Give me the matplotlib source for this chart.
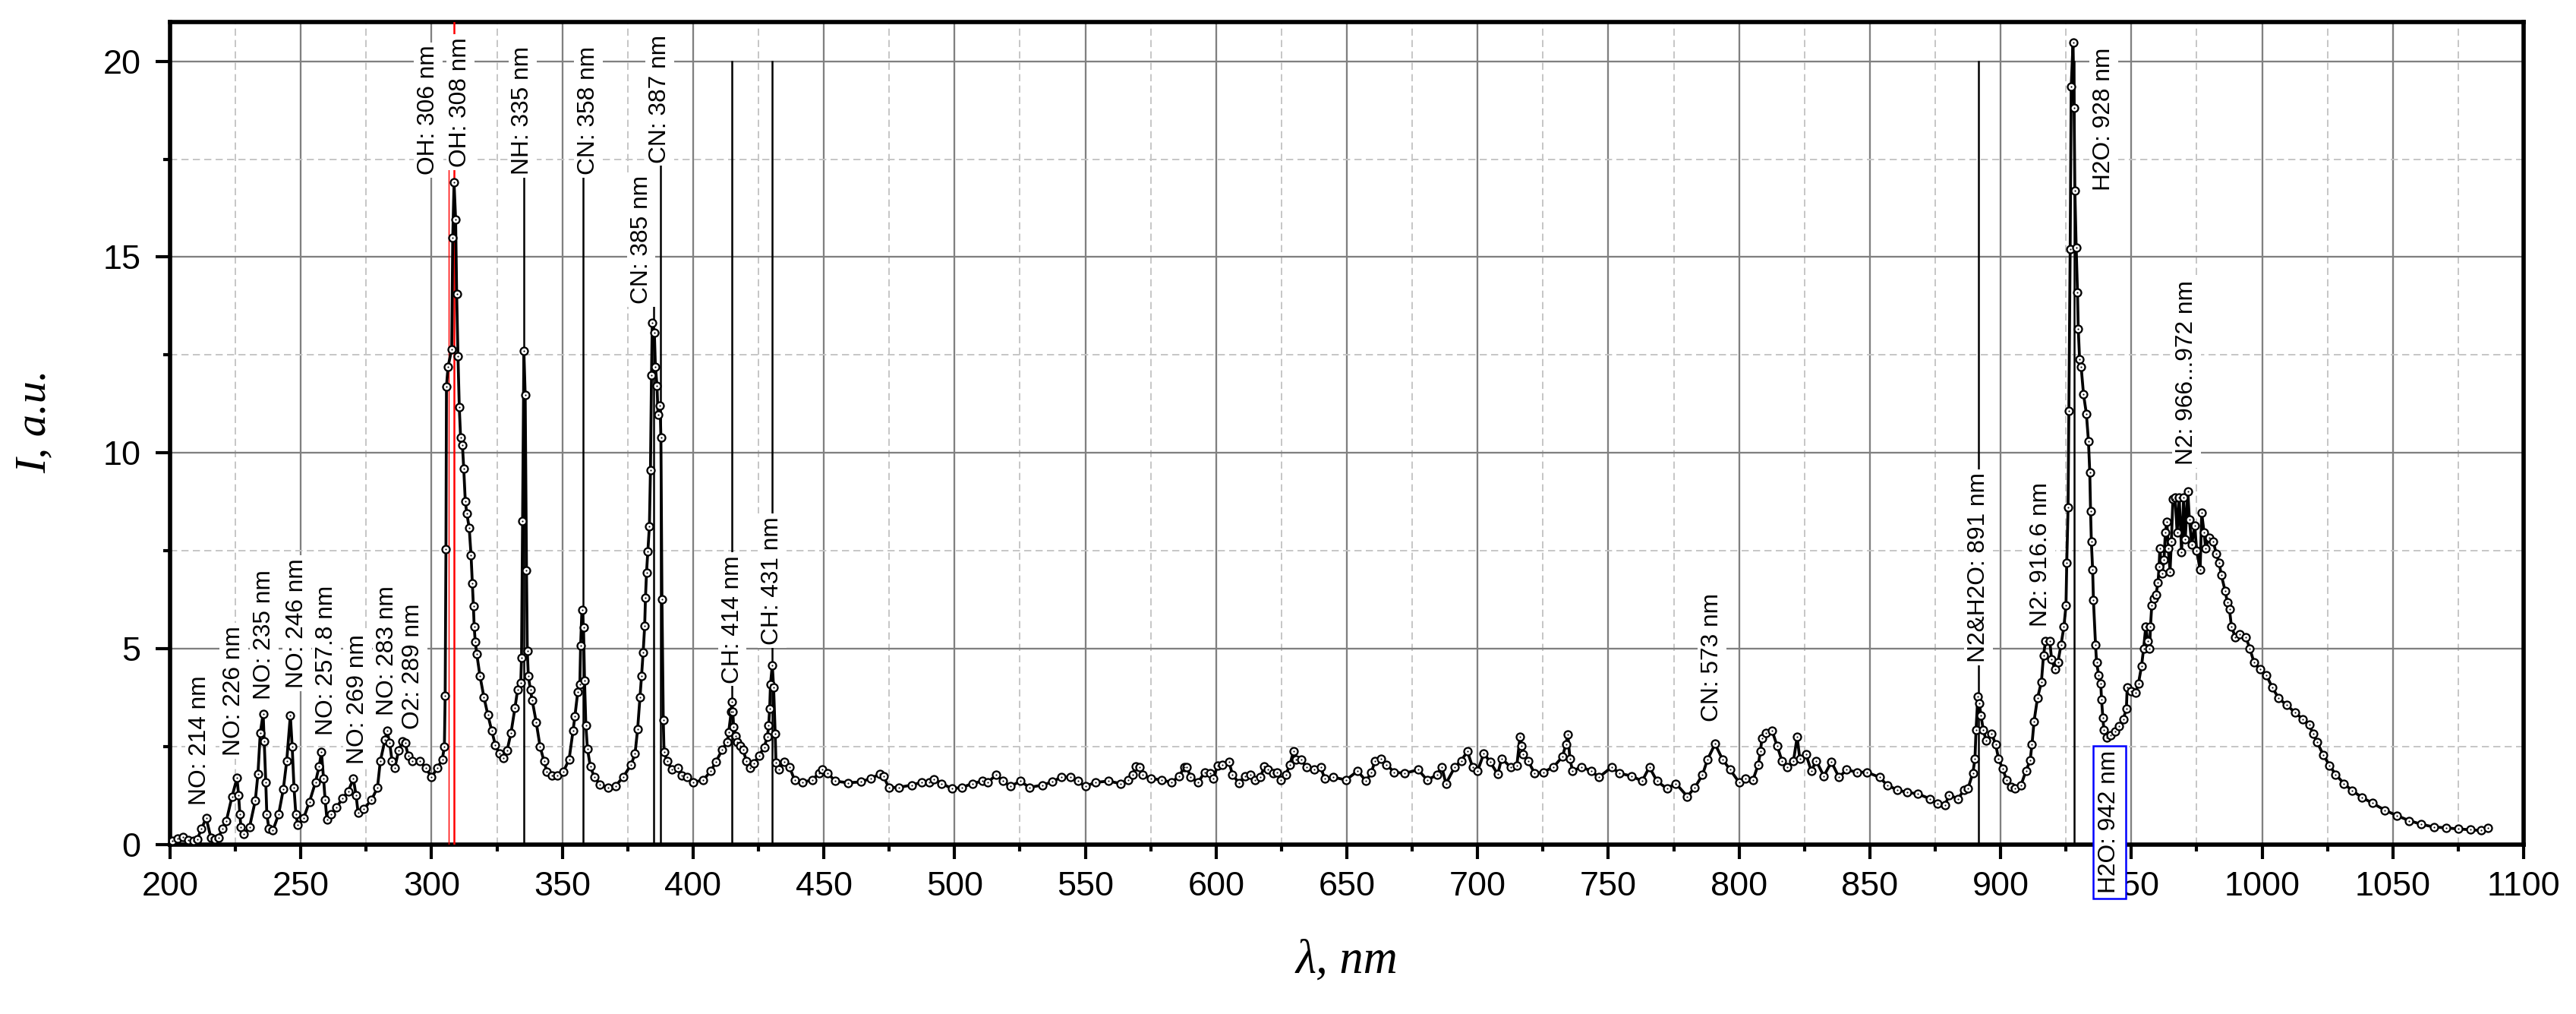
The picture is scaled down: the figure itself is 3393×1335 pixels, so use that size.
import numpy as np
import matplotlib
matplotlib.use("Agg")
import matplotlib.pyplot as plt
from matplotlib.ticker import MultipleLocator

# spectrum (wavelength, nm / intensity, a.u.)
wavelength = [
    201, 203, 205, 207, 209, 210.4, 212, 213.8, 215.6, 217, 218.5, 220, 221.5, 223.7, 225.6, 226.2,
    226.7, 227.1, 228.1, 230.4, 232.6, 233.6, 234.5, 235.6, 236, 236.6, 237, 237.8, 239.3, 241.5,
    243.3, 244.6, 246, 246.7, 247.4, 248.1, 248.9, 251.1, 253.3, 255.6, 257, 257.9, 258.7, 259.3,
    260, 261.5, 263.7, 265.9, 268.1, 270.1, 271.1, 271.9, 274.1, 277, 279.3, 280.4, 282.2, 283,
    284, 284.9, 285.9, 287.4, 288.9, 289.9, 291.1, 292.6, 295.6, 297.8, 300, 302.2, 304.1, 304.9,
    305.2, 305.5, 305.7, 306.3, 307.7, 308.1, 308.6, 309.2, 309.6, 310.1, 310.6, 311.1, 311.8,
    312.3, 312.9, 313.5, 314.4, 315.1, 315.6, 316, 316.3, 316.7, 317.3, 318.5, 320, 321.5, 323,
    324.4, 325.9, 327.4, 328.9, 330.4, 331.9, 332.9, 334.1, 334.4, 334.8, 335.3, 335.8, 336.3,
    336.6, 337, 337.8, 338.5, 340, 341.5, 343, 344.1, 345.9, 348.1, 350.4, 352.6, 354.1, 354.8,
    355.9, 356.7, 357, 357.5, 358.1, 358.5, 359, 359.6, 360.7, 362.2, 364.4, 367.4, 370.4, 373.3,
    376.3, 377.8, 378.8, 379.7, 380.3, 380.9, 381.5, 381.8, 382.2, 382.7, 383.3, 383.7, 384.1,
    384.4, 385.2, 385.6, 386.2, 386.6, 387.4, 387.7, 388.1, 388.6, 388.9, 390.1, 391.9, 394.1,
    395.6, 397.8, 400, 403.9, 406.8, 408.7, 411.2, 413.1, 413.6, 414.6, 414.8, 415.2, 415.5,
    416.2, 417, 418, 419.1, 420.4, 421.8, 423.3, 425.2, 427.2, 428.4, 428.9, 429.3, 429.6, 430.3,
    430.8, 431.4, 431.7, 432.8, 434.9, 436.9, 438.8, 441.7, 445.6, 448.1, 449.3, 451.5, 454.4,
    459.2, 464.1, 468, 471.4, 472.8, 474.8, 478.6, 483.5, 487.4, 490.3, 492.2, 495.1, 499, 502.9,
    506.8, 510.7, 512.6, 516, 518.4, 521.4, 525.2, 528.6, 533.5, 537.4, 540.8, 544.2, 547.1, 550,
    553.9, 558.7, 563.6, 566.5, 568, 569.4, 570.6, 571.8, 575.2, 579.1, 583, 585.9, 587.9, 588.8,
    590.3, 593.2, 595.6, 597.6, 599, 600.5, 602.4, 604.9, 606.3, 608.7, 611.2, 613.1, 615, 617,
    618.4, 619.9, 621.8, 623.3, 624.8, 626.7, 628.2, 629.6, 630.6, 632.5, 634.5, 637.4, 640,
    641.5, 644.9, 649.7, 654.1, 657.4, 659.4, 660.8, 663.2, 665.2, 668.1, 672, 677.3, 680.7,
    684.5, 686.3, 687.9, 691.3, 693.7, 696.1, 698.1, 700, 702.4, 704.8, 707.7, 709.2, 712.6, 715,
    716.2, 716.9, 717.4, 719.3, 721.8, 725.1, 729, 732.4, 733.8, 734.5, 735.3, 736.3, 739.7,
    743.5, 746.4, 751.3, 754.2, 759, 762.9, 765.7, 768.6, 772.4, 775.8, 780.2, 783.1, 786, 787.9,
    790.8, 793.7, 796.6, 800, 802.4, 805.3, 807.3, 808.2, 808.7, 810.2, 812.6, 814.5, 816.4,
    818.4, 820.8, 822.2, 823.2, 825.6, 827.6, 829.5, 832.4, 835.3, 838.2, 841.1, 845, 848.8,
    853.7, 856.6, 860.4, 864.3, 868.2, 873, 875.9, 878.8, 880.3, 883.7, 886.1, 887.5, 889.4,
    890.2, 890.6, 891.3, 891.9, 892.5, 893.4, 894.5, 896.6, 898.1, 899.2, 900.8, 902.3, 903.9,
    905.5, 907.8, 909.7, 911.3, 912, 912.8, 914.1, 915.6, 916.4, 917.2, 918.8, 919.5, 920.8,
    921.9, 923.1, 924.2, 925, 925.3, 925.8, 926.1, 926.6, 927, 927.7, 928.1, 928.4, 928.9, 929.4,
    929.7, 930.2, 930.8, 931.7, 932.8, 933.6, 934.1, 934.4, 934.7, 935.2, 935.5, 936.3, 936.7,
    937.5, 938.3, 938.6, 939.1, 939.5, 940.6, 942.2, 943.8, 945.3, 946.9, 948.1, 948.4, 950,
    951.6, 952.7, 953.9, 954.7, 955.5, 956.3, 957, 957.3, 957.8, 958.6, 959.4, 960.2, 960.6,
    960.9, 961.7, 962.5, 963, 963.6, 964.1, 964.8, 965.3, 965.9, 966.7, 967.5, 968.3, 969.2, 970,
    970.6, 971.6, 972.2, 973.1, 974.2, 975, 976.3, 976.9, 977.8, 978.4, 979.7, 981.3, 982.5,
    983.6, 984.4, 985.9, 986.7, 987.5, 988.3, 989.8, 991.4, 993.8, 995.3, 996.9, 999.2, 1001.6,
    1003.9, 1006.3, 1009.4, 1012.5, 1015.6, 1018, 1019.5, 1021.1, 1023.4, 1025.8, 1028.1, 1031.3,
    1034.4, 1038.3, 1042.2, 1046.9, 1051.6, 1056.3, 1060.9, 1065.6, 1070.3, 1075, 1079.7, 1083.6,
    1086.3,
]
intensity = [
    0.1, 0.15, 0.2, 0.12, 0.1, 0.14, 0.4, 0.68, 0.18, 0.14, 0.18, 0.4, 0.6, 1.23, 1.7, 1.27,
    0.77, 0.45, 0.27, 0.45, 1.13, 1.8, 2.86, 3.34, 2.63, 1.59, 0.77, 0.41, 0.36, 0.77,
    1.41, 2.13, 3.3, 2.5, 1.45, 0.77, 0.5, 0.68, 1.09, 1.59, 2.0, 2.36, 1.68, 1.14,
    0.64, 0.77, 0.95, 1.18, 1.36, 1.68, 1.27, 0.82, 0.91, 1.14, 1.45, 2.13, 2.68, 2.9,
    2.59, 2.13, 1.95, 2.4, 2.63, 2.59, 2.27, 2.13, 2.13, 1.95, 1.73, 1.95, 2.18, 2.5,
    3.81, 7.54, 11.7, 12.2, 12.65, 15.5, 16.9, 15.95, 14.05, 12.46, 11.16, 10.4, 10.2,
    9.6, 8.76, 8.45, 8.08, 7.38, 6.68, 6.08, 5.56, 5.18, 4.86, 4.31, 3.77, 3.32, 2.91,
    2.54, 2.32, 2.22, 2.41, 2.86, 3.5, 3.95, 4.13, 4.77, 8.27, 12.6, 11.48, 7.0,
    4.95, 4.31, 3.95, 3.68, 3.13, 2.5, 2.13, 1.86, 1.77, 1.77, 1.86, 2.18, 2.91, 3.27,
    3.9, 4.09, 5.09, 6.0, 5.54, 4.18, 3.04, 2.45, 2.0, 1.73, 1.54, 1.45, 1.5, 1.73,
    2.04, 2.32, 2.95, 3.77, 4.31, 4.9, 5.59, 6.31, 6.95, 7.49, 8.13, 9.56, 11.98,
    13.33, 13.06, 12.2, 11.72, 10.98, 11.2, 10.39, 6.27, 3.18, 2.36, 2.13, 1.91, 1.95,
    1.77, 1.73, 1.59, 1.65, 1.88, 2.11, 2.43, 2.62, 2.87, 3.4, 3.64, 3.4, 3.01,
    2.78, 2.62, 2.53, 2.42, 2.14, 1.96, 2.07, 2.27, 2.49, 2.75, 3.04, 3.48, 4.1, 4.58,
    4.01, 2.83, 2.09, 1.91, 2.12, 1.98, 1.65, 1.59, 1.65, 1.82, 1.91, 1.82, 1.62,
    1.58, 1.6, 1.69, 1.8, 1.75, 1.46, 1.46, 1.52, 1.59, 1.59, 1.67, 1.56, 1.43, 1.46,
    1.56, 1.62, 1.59, 1.78, 1.62, 1.49, 1.62, 1.46, 1.52, 1.6, 1.73, 1.72, 1.62, 1.49,
    1.59, 1.62, 1.56, 1.65, 1.78, 1.99, 1.98, 1.78, 1.69, 1.65, 1.59, 1.75, 1.98, 1.98,
    1.72, 1.59, 1.85, 1.82, 1.69, 2.01, 2.04, 2.12, 1.78, 1.58, 1.75, 1.78, 1.65, 1.72,
    1.99, 1.91, 1.82, 1.85, 1.65, 1.78, 2.04, 2.38, 2.18, 2.18, 1.98, 1.91, 1.98,
    1.69, 1.72, 1.65, 1.88, 1.62, 1.85, 2.14, 2.2, 2.04, 1.85, 1.82, 1.91, 1.65,
    1.78, 1.98, 1.56, 1.98, 2.14, 2.38, 1.98, 1.88, 2.33, 2.11, 1.8, 2.2, 1.98, 2.01,
    2.75, 2.53, 2.3, 2.14, 1.82, 1.85, 1.98, 2.24, 2.56, 2.82, 2.2, 1.88, 1.98,
    1.88, 1.72, 1.98, 1.82, 1.75, 1.62, 1.98, 1.62, 1.43, 1.56, 1.23, 1.46, 1.78, 2.17,
    2.57, 2.17, 1.91, 1.59, 1.69, 1.65, 2.04, 2.38, 2.72, 2.85, 2.91, 2.53, 2.14,
    1.98, 2.14, 2.75, 2.2, 2.3, 1.88, 2.14, 1.75, 2.11, 1.72, 1.91, 1.85, 1.85,
    1.72, 1.52, 1.4, 1.33, 1.3, 1.17, 1.04, 1.01, 1.27, 1.17, 1.4, 1.43, 1.83,
    2.2, 2.92, 3.79, 3.6, 3.29, 2.92, 2.65, 2.83, 2.56, 2.2, 1.93, 1.65, 1.47,
    1.43, 1.52, 1.88, 2.15, 2.56, 3.15, 3.74, 4.15, 4.83, 5.2, 5.2, 4.74, 4.47,
    4.65, 5.1, 5.56, 6.1, 7.19, 8.6, 11.08, 15.2, 19.35, 20.47, 18.8, 16.7, 15.25, 14.1,
    13.16, 12.4, 12.2, 11.5, 11.0, 10.3, 9.5, 8.52, 7.74, 7.01, 6.24, 5.1, 4.65,
    4.33, 4.11, 3.7, 3.24, 2.92, 2.74, 2.79, 2.88, 3.02, 3.2, 3.47, 4.01, 3.92,
    3.88, 4.11, 4.56, 5.01, 5.56, 5.2, 5.01, 5.56, 6.1, 6.29, 6.38, 6.69, 7.1,
    7.56, 6.92, 7.28, 7.97, 8.24, 7.56, 6.97, 7.74, 8.83, 8.87, 7.97, 8.87, 7.47, 8.87,
    7.79, 9.01, 8.29, 7.65, 8.15, 7.51, 7.01, 8.47, 7.97, 7.56, 7.83, 7.74, 7.42,
    7.19, 6.88, 6.47, 6.19, 6.01, 5.56, 5.29, 5.38, 5.29, 5.01, 4.65, 4.47, 4.33,
    4.01, 3.74, 3.56, 3.38, 3.2, 3.06, 2.83, 2.61, 2.29, 2.02, 1.79, 1.56,
    1.38, 1.2, 1.06, 0.88, 0.74, 0.61, 0.52, 0.45, 0.43, 0.4, 0.38, 0.36,
    0.43,
]

# peak labels: text, x of the label centre, y of its lower end
label_texts = ["NO: 214 nm", "NO: 226 nm", "NO: 235 nm", "NO: 246 nm", "NO: 257.8 nm",
               "NO: 269 nm", "NO: 283 nm", "O2: 289 nm", "OH: 306 nm", "OH: 308 nm",
               "NH: 335 nm", "CN: 358 nm", "CN: 385 nm", "CN: 387 nm", "CH: 414 nm",
               "CH: 431 nm", "CN: 573 nm", "N2&H2O: 891 nm", "N2: 916.6 nm",
               "H2O: 928 nm", "N2: 966...972 nm"]
label_x = [211.3, 224.4, 236.0, 248.5, 259.8, 271.7, 283.0, 293.0, 298.7, 311.0,
           334.8, 360.0, 380.2, 387.3, 415.0, 430.2, 789.7, 891.6, 915.3, 939.5, 971.1]
label_y = [1.0, 2.27, 3.7, 4.0, 2.8, 2.05, 3.3, 2.95, 17.1, 17.3,
           17.1, 17.1, 13.8, 17.4, 4.12, 5.1, 3.14, 4.65, 5.56, 16.7, 9.7]

# marker lines: position, top end, colour
line_x = [306.5, 308.7, 335.4, 357.9, 384.8, 387.6, 414.7, 430.1, 891.6, 928.2]
line_top = [17.25, 21.0, 17.1, 17.1, 13.74, 17.4, 20.0, 20.0, 20.0, 20.0]
line_color = ["red", "red", "black", "black", "black", "black", "black", "black", "black", "black"]

boxed_text = "H2O: 942 nm"
boxed_x, boxed_y = 941.6, -1.25

plt.rcParams['font.family'] = ['Liberation Sans', 'DejaVu Sans']

fig = plt.figure(figsize=(3393 / 300, 1335 / 300), dpi=300)
ax = fig.add_axes([224 / 3393, 1 - 1112 / 1335, 3100 / 3393, 1083 / 1335])

ax.set_xlim(200, 1100)
ax.set_ylim(0, 21)
ax.xaxis.set_major_locator(MultipleLocator(50))
ax.xaxis.set_minor_locator(MultipleLocator(25))
ax.yaxis.set_major_locator(MultipleLocator(5))
ax.yaxis.set_minor_locator(MultipleLocator(2.5))

ax.grid(which='major', color='#808080', lw=0.55, ls='-')
ax.grid(which='minor', color='#c4c4c4', lw=0.45, ls=(0, (5, 3)))
ax.set_axisbelow(True)

for s in ax.spines.values():
    s.set_linewidth(1.35)
ax.tick_params(which='both', direction='out', top=False, right=False, width=1.0, labelsize=10.8)
ax.tick_params(which='major', length=4.5)
ax.tick_params(which='minor', length=2.2)
ax.tick_params(axis='x', pad=3.8)
ax.tick_params(axis='y', pad=4.8)

# vertical marker lines
for x, top, c in zip(line_x, line_top, line_color):
    lw = 0.35 if (c == "red" and top < 20) else 0.6
    ax.plot([x, x], [0, top], color=c, lw=lw, zorder=2.6)

# the spectrum
ax.plot(wavelength, intensity, color='black', lw=0.9, zorder=3)
ax.plot(wavelength, intensity, ls='none', marker='o', ms=2.4, mfc='white', mec='black',
        mew=0.55, zorder=3.5)
ax.plot(wavelength, intensity, ls='none', marker='o', ms=0.5, mfc='black', mec='black',
        mew=0, zorder=3.6)

for t, x, y in zip(label_texts, label_x, label_y):
    ax.text(x, y, t, rotation=90, ha='center', va='bottom', fontsize=7.6, zorder=5,
            bbox=dict(boxstyle='square,pad=0.12', fc='white', ec='none'))

ax.text(boxed_x, boxed_y, boxed_text, rotation=90, ha='center', va='bottom', fontsize=7.6,
        zorder=6, clip_on=False,
        bbox=dict(boxstyle='square,pad=0.2', fc='white', ec='#0000ff', lw=0.6))

ax.set_xlabel('λ, nm', fontsize=15, fontstyle='italic', family='Liberation Serif',
              va='center')
ax.xaxis.set_label_coords(0.5, -0.142)
ax.set_ylabel('I, a.u.', fontsize=14, fontstyle='italic', family='Liberation Serif',
              va='center')
ax.yaxis.set_label_coords(-0.0575, 0.515)

fig.savefig('out.png', dpi=300)
